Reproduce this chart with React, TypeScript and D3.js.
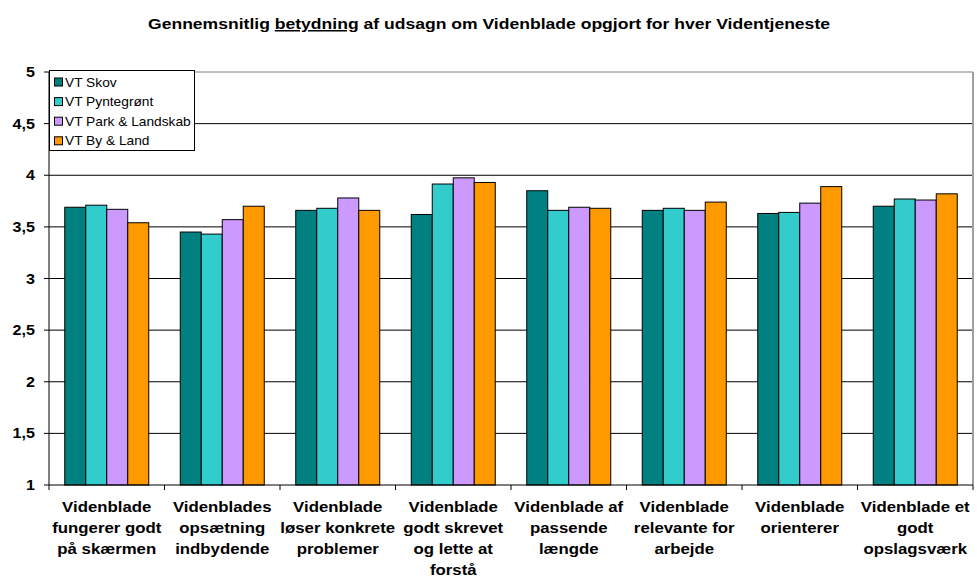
import React from "react";
import * as d3 from "d3";

const categories: string[][] = [
  ["Videnblade", "fungerer godt", "på skærmen"],
  ["Videnblades", "opsætning", "indbydende"],
  ["Videnblade", "løser konkrete", "problemer"],
  ["Videnblade", "godt skrevet", "og lette at", "forstå"],
  ["Videnblade af", "passende", "længde"],
  ["Videnblade", "relevante for", "arbejde"],
  ["Videnblade", "orienterer"],
  ["Videnblade et", "godt", "opslagsværk"],
];
const seriesNames = ["VT Skov", "VT Pyntegrønt", "VT Park & Landskab", "VT By & Land"];
const seriesColors = ["#008080", "#33CCCC", "#CC99FF", "#FF9900"];
const vtSkov = [3.69, 3.45, 3.66, 3.62, 3.85, 3.66, 3.63, 3.70];
const vtPyntegroent = [3.71, 3.43, 3.68, 3.915, 3.66, 3.68, 3.64, 3.77];
const vtPark = [3.67, 3.57, 3.78, 3.975, 3.69, 3.66, 3.73, 3.76];
const vtByLand = [3.54, 3.70, 3.66, 3.93, 3.68, 3.74, 3.89, 3.82];
const yTicks = [1, 1.5, 2, 2.5, 3, 3.5, 4, 4.5, 5];

export default function App() {
  const W = 977, H = 577;
  const left = 49, right = 973, top = 72, bottom = 485;
  const series = [vtSkov, vtPyntegroent, vtPark, vtByLand];
  const x0 = d3.scaleBand<number>().domain(d3.range(categories.length)).range([left, right]).paddingInner(0).paddingOuter(0);
  const bw = x0.bandwidth();
  const barW = bw / 5.5;
  const x1 = d3.scaleBand<number>().domain(d3.range(4)).range([bw * 0.75 / 5.5, bw - bw * 0.75 / 5.5]).padding(0);
  const y = d3.scaleLinear().domain([1, 5]).range([bottom, top]);
  const fmt = (v: number) => String(v).replace(".", ",");
  const sx = 1.2;
  return (
    <svg width={W} height={H} style={{ position: "absolute", left: 0, top: 0 }} fontFamily="Arial, 'Liberation Sans', sans-serif">
      <rect x={0} y={0} width={W} height={H} fill="#fff" />
      <text x={148} y={29} fontSize={15} fontWeight="bold" textLength={682} lengthAdjust="spacingAndGlyphs">
        Gennemsnitlig <tspan textDecoration="underline">betydning</tspan> af udsagn om Videnblade opgjort for hver Videntjeneste
      </text>
      {yTicks.map((t) => (
        <g key={t}>
          {t > 1 && t < 5 && <line x1={left} x2={right} y1={y(t)} y2={y(t)} stroke="#000" strokeWidth={1} />}
          <line x1={left - 5} x2={left} y1={y(t)} y2={y(t)} stroke="#000" />
          <g transform={`translate(35,${y(t)}) scale(1.15,1)`}>
            <text x={0} y={0} dy="0.36em" textAnchor="end" fontSize={14} fontWeight="bold">{fmt(t)}</text>
          </g>
        </g>
      ))}
      <line x1={left} x2={right} y1={top} y2={top} stroke="#808080" />
      <line x1={right} x2={right} y1={top} y2={bottom} stroke="#a0a0a0" strokeWidth={2} />
      {categories.map((c, i) => (
        <g key={i} transform={`translate(${x0(i)},0)`}>
          {series.map((s, j) => (
            <rect key={j} x={(x1(j) as number)} y={y(s[i])} width={barW} height={bottom - y(s[i])} fill={seriesColors[j]} stroke="#000" strokeWidth={1} />
          ))}
          <g transform={`translate(${bw / 2},0) scale(${sx},1)`}>
            <text textAnchor="middle" fontSize={14} fontWeight="bold">
              {c.map((line, k) => (
                <tspan key={k} x={0} y={512.5 + k * 20.7}>{line}</tspan>
              ))}
            </text>
          </g>
        </g>
      ))}
      <line x1={left} x2={left} y1={top} y2={bottom} stroke="#000" />
      <line x1={left} x2={right} y1={bottom} y2={bottom} stroke="#000" />
      {d3.range(categories.length + 1).map((i) => (
        <line key={i} x1={left + i * bw} x2={left + i * bw} y1={bottom} y2={bottom + 5} stroke="#000" />
      ))}
      <g>
        <rect x={49.5} y={70.5} width={145} height={80} fill="#fff" stroke="#000" />
        {seriesNames.map((n, j) => (
          <g key={n} transform={`translate(0,${82 + j * 19.6})`}>
            <rect x={54.5} y={-4} width={8} height={8} fill={seriesColors[j]} stroke="#000" />
            <g transform="translate(65,0) scale(1.1,1)">
              <text x={0} y={0} dy="0.36em" fontSize={12.5}>{n}</text>
            </g>
          </g>
        ))}
      </g>
    </svg>
  );
}
